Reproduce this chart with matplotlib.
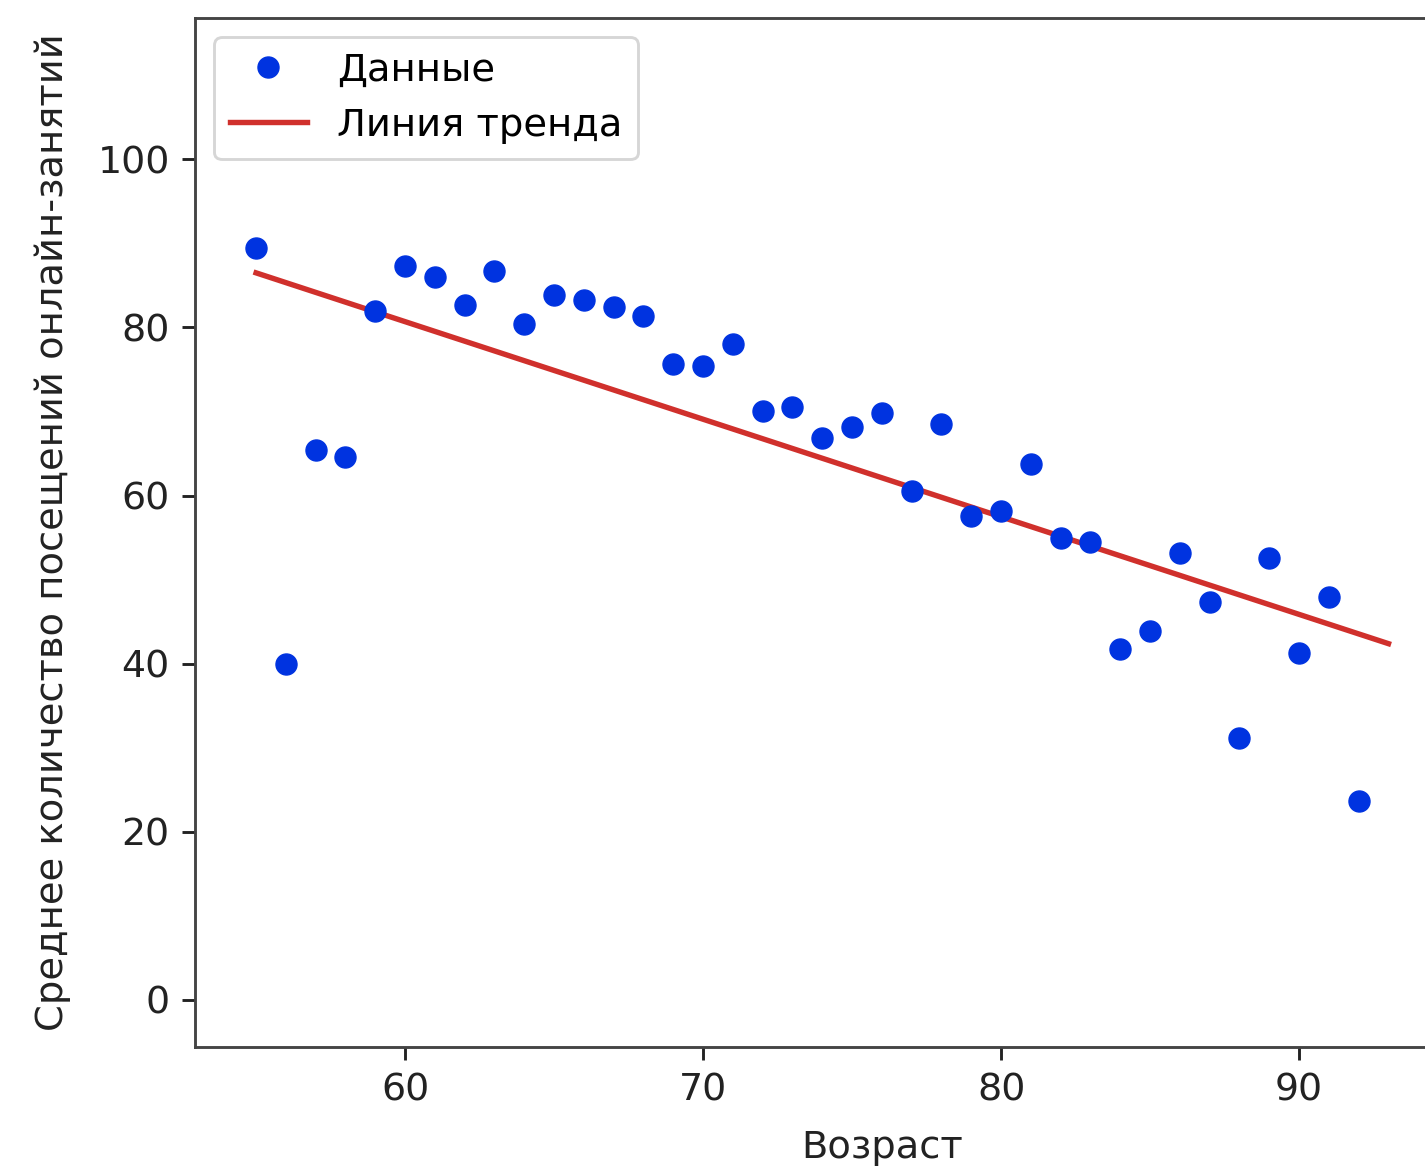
import numpy as np
import matplotlib
matplotlib.use("Agg")
import matplotlib.pyplot as plt

ages = list(range(55, 93))
visits = [89.5, 39.9, 65.4, 64.6, 81.9, 87.3, 86.0, 82.7, 86.7, 80.4,
          83.9, 83.3, 82.4, 81.4, 75.7, 75.4, 78.0, 70.1, 70.5, 66.8,
          68.1, 69.8, 60.5, 68.5, 57.6, 58.2, 63.7, 54.9, 54.5, 41.7,
          43.9, 53.2, 47.3, 31.1, 52.6, 41.3, 47.9, 23.7]
trend_range = [55, 93]
xticks = [60, 70, 80, 90]
yticks = [0, 20, 40, 60, 80, 100]

S = 2.6
FS = 27.7
plt.rcParams['font.family'] = ['DejaVu Sans']
plt.rcParams['font.size'] = FS

fig = plt.figure(figsize=(14.25, 11.67), dpi=100)
xlim = (52.95, 99.05)
px_per_unit = 29.8
ax = fig.add_axes([195 / 1425, 1 - 1047 / 1167,
                   (xlim[1] - xlim[0]) * px_per_unit / 1425, (1047 - 18) / 1167])

x = np.array(ages, dtype=float)
y = np.array(visits)
coef = np.polyfit(x, y, 1)
tx = np.linspace(trend_range[0], trend_range[1], 100)

ax.plot(x, y, 'o', color='#0033e0', markersize=6 * S * 0.97, label='Данные', zorder=3)
ax.plot(tx, np.polyval(coef, tx), color='#d0302c', lw=1.5 * S, label='Линия тренда', zorder=2)

ax.set_xlim(*xlim)
ax.set_ylim(-5.6, 116.8)
ax.set_xticks(xticks)
ax.set_yticks(yticks)
ax.tick_params(length=3.5 * S, width=0.8 * S, pad=3.5 * S, labelsize=27.3, colors='#222222')
for sp in ax.spines.values():
    sp.set_linewidth(0.8 * S)
    sp.set_color('#444444')

ax.set_xlabel('Возраст', fontsize=FS, color='#222222', labelpad=16)
ax.set_ylabel('Среднее количество посещений онлайн-занятий', fontsize=FS, color='#222222', labelpad=19)

leg = ax.legend(loc='upper left', fontsize=FS, frameon=True)
leg.get_frame().set_linewidth(0.8 * S)

fig.savefig('out.png', dpi=100)
